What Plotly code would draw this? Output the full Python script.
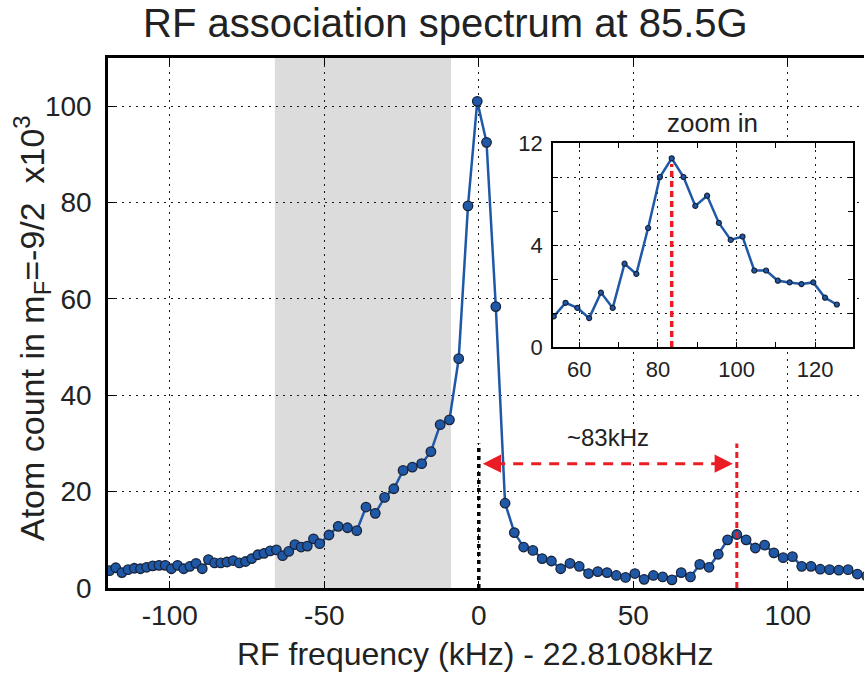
import plotly.graph_objects as go

# RF detuning from 22.8108 kHz (kHz) and remaining atom count in mF=-9/2 (x10^3)
freq_khz = [
    -119.5, -117.5, -115.5, -113.5, -111.5, -109.5, -107.5, -105.5, -103.5, -101.5,
    -99.5, -97.5, -95.5, -93.5, -91.5, -89.5, -87.5, -85.5, -83.5, -81.5,
    -79.5, -77.5, -75.5, -73.5, -71.5, -69.5, -67.5, -65.5, -63.5, -61.5,
    -59.5, -57.5, -55.5, -53.5, -51.5,
    -48.5, -45.5, -42.5, -39.5, -36.5, -33.5, -30.5, -27.5, -24.5, -21.5,
    -18.5, -15.5, -12.5, -9.5, -6.5, -3.5, -0.5, 2.5, 5.5, 8.5,
    11.5, 14.5, 17.5, 20.5, 23.5, 26.5, 29.5, 32.5, 35.5, 38.5,
    41.5, 44.5, 47.5, 50.5, 53.5, 56.5, 59.5, 62.5, 65.5, 68.5,
    71.5, 74.5, 77.5, 80.5, 83.5, 86.5, 89.5, 92.5, 95.5, 98.5,
    101.5, 104.5, 107.5, 110.5, 113.5, 116.5, 119.5, 122.5, 125.5,
]
atoms_k = [
    3.6, 4.2, 3.2, 3.8, 4.1, 4.0, 4.3, 4.6, 4.7, 4.7,
    4.0, 4.7, 4.0, 4.5, 5.1, 4.0, 5.9, 5.2, 5.2, 5.4,
    5.7, 5.2, 5.5, 6.1, 6.9, 7.2, 7.7, 7.9, 6.7, 7.6,
    9.0, 8.5, 8.7, 10.2, 9.2,
    11.0, 12.8, 12.5, 11.9, 16.8, 15.5, 18.8, 20.6, 24.4, 25.1,
    25.8, 28.3, 33.9, 34.9, 47.6, 79.3, 101.0, 92.5, 58.4, 17.6,
    11.5, 8.5, 7.8, 6.1, 5.6, 4.0, 5.1, 4.5, 3.0, 3.4,
    3.2, 2.6, 2.2, 3.0, 1.8, 2.6, 2.3, 1.7, 3.2, 2.3,
    4.9, 4.3, 7.0, 10.0, 11.1, 10.0, 8.3, 8.9, 7.3, 6.3,
    6.5, 4.5, 4.5, 3.9, 3.8, 3.7, 3.8, 2.9, 2.5,
]

# Tick values / labels
main_xticks = [-100, -50, 0, 50, 100]
main_xtext = ["-100", "-50", "0", "50", "100"]
main_yticks = [0, 20, 40, 60, 80, 100]
zoom_xticks = [60, 80, 100, 120]
zoom_xminor = [70, 90, 110]
zoom_yticks = [0, 2, 6, 10, 12]
zoom_ytext = ["0", "", "4", "", "12"]
zoom_yminor = [4, 8]

# Reference features
CENTER_KHZ = 0.0          # main association peak reference
SIDE_PEAK_KHZ = 83.5      # second feature
MARKER_TOP = 30.0         # height of the vertical markers
ARROW_Y = 25.8
SHADE_RANGE = (-66.0, -9.0)
ZOOM_START = 53.0

BLUE = "#1f58a6"
EDGE = "#18233a"
RED = "#ec1c24"
TEXT = "#222222"
FONT = "Liberation Sans"

zoom_f = [f for f in freq_khz if f >= ZOOM_START]
zoom_a = [a for f, a in zip(freq_khz, atoms_k) if f >= ZOOM_START]

fig = go.Figure()

fig.add_trace(go.Scatter(
    x=freq_khz, y=atoms_k, mode="lines+markers",
    line=dict(color=BLUE, width=2.5),
    marker=dict(size=9.5, color=BLUE, line=dict(color=EDGE, width=1.3)),
    xaxis="x", yaxis="y", showlegend=False,
))

fig.add_trace(go.Scatter(
    x=zoom_f, y=zoom_a, mode="lines+markers",
    line=dict(color=BLUE, width=2.5),
    marker=dict(size=5, color=BLUE, line=dict(color=EDGE, width=1.2)),
    xaxis="x2", yaxis="y2", showlegend=False,
))

grid_dash = "2px,5px"
axis_common = dict(
    showline=True, linecolor="black", ticks="inside", tickcolor="black",
    zeroline=False, gridcolor="#1a1a1a", griddash=grid_dash, gridwidth=1.2,
)

INSET_X = [0.5886, 0.9854]
INSET_Y = [0.4547, 0.8396]

fig.update_layout(
    width=864, height=680,
    margin=dict(l=108, r=0, t=58, b=92),
    paper_bgcolor="white", plot_bgcolor="white",
    font=dict(family=FONT, color=TEXT),
    xaxis=dict(
        **axis_common, range=[-120, 124.66], tickvals=main_xticks, ticktext=main_xtext,
        linewidth=2.5, ticklen=7, mirror="allticks", showgrid=True,
        tickfont=dict(size=28), ticklabelstandoff=1,
    ),
    yaxis=dict(
        **axis_common, range=[0, 110], tickvals=main_yticks,
        linewidth=2.5, ticklen=7, mirror=False, showgrid=True,
        tickfont=dict(size=28), ticklabelstandoff=8,
    ),
    xaxis2=dict(
        **axis_common, domain=INSET_X, anchor="y2",
        range=[53.3, 129.6], tickvals=zoom_xticks, linewidth=1.5,
        ticklen=5, mirror="allticks", showgrid=True,
        minor=dict(tickvals=zoom_xminor, ticks="inside", ticklen=5,
                   tickcolor="black", showgrid=False),
        tickfont=dict(size=22), ticklabelstandoff=2,
    ),
    yaxis2=dict(
        **axis_common, domain=INSET_Y, anchor="x2",
        range=[0, 12], tickvals=zoom_yticks, ticktext=zoom_ytext,
        linewidth=1.5, ticklen=5, mirror="allticks", showgrid=True,
        minor=dict(tickvals=zoom_yminor, ticks="inside", ticklen=5,
                   tickcolor="black", showgrid=False),
        tickfont=dict(size=22), ticklabelstandoff=4,
    ),
)

# shaded frequency window
fig.add_shape(type="rect", xref="x", yref="y domain",
              x0=SHADE_RANGE[0], x1=SHADE_RANGE[1], y0=0, y1=1,
              fillcolor="#dcdcdc", line=dict(width=0), layer="below")

# vertical markers
fig.add_shape(type="line", xref="x", yref="y", x0=CENTER_KHZ, x1=CENTER_KHZ,
              y0=0, y1=MARKER_TOP, line=dict(color="#000000", width=3.5, dash="4px,4px"),
              layer="above")
fig.add_shape(type="line", xref="x", yref="y", x0=SIDE_PEAK_KHZ, x1=SIDE_PEAK_KHZ,
              y0=0, y1=MARKER_TOP, line=dict(color=RED, width=3, dash="6px,4px"),
              layer="above")
peak_zoom = max(zoom_a)
fig.add_shape(type="line", xref="x2", yref="y2", x0=SIDE_PEAK_KHZ, x1=SIDE_PEAK_KHZ,
              y0=0, y1=peak_zoom * 0.97, line=dict(color=RED, width=3.5, dash="6px,4px"),
              layer="above")

# separation arrow
a_left = CENTER_KHZ + 1.3
a_right = SIDE_PEAK_KHZ - 1.3
fig.add_shape(type="line", xref="x", yref="y", x0=a_left + 4, x1=a_right - 4,
              y0=ARROW_Y, y1=ARROW_Y, line=dict(color=RED, width=3, dash="10px,8px"),
              layer="above")
for xh, off in ((a_left, 14), (a_right, -14)):
    fig.add_annotation(x=xh, y=ARROW_Y, xref="x", yref="y", ax=off, ay=0,
                       axref="pixel", ayref="pixel", text="", showarrow=True,
                       arrowhead=2, arrowsize=1.3, arrowwidth=2.8, arrowcolor=RED)

fig.add_annotation(x=(CENTER_KHZ + SIDE_PEAK_KHZ) / 2, y=ARROW_Y, xref="x", yref="y",
                   yshift=26, text="~83kHz", showarrow=False,
                   font=dict(size=24, color=TEXT))

# titles
fig.add_annotation(x=(INSET_X[0] + INSET_X[1]) / 2, y=INSET_Y[1], xref="paper", yref="paper",
                   xanchor="center", yanchor="bottom", xshift=10, yshift=3,
                   text="zoom in", showarrow=False, font=dict(size=26, color=TEXT))
fig.add_annotation(x=(445 - 108) / 756, y=1.0, xref="paper", yref="paper",
                   xanchor="center", yanchor="bottom", yshift=11,
                   text="RF association spectrum at 85.5G",
                   showarrow=False, font=dict(size=40, color=TEXT))
fig.add_annotation(x=(475 - 108) / 756, y=0.0, xref="paper", yref="paper",
                   xanchor="center", yanchor="top", yshift=-46,
                   text="RF frequency (kHz) - 22.8108kHz",
                   showarrow=False, font=dict(size=32, color=TEXT))
fig.add_annotation(x=0.0, y=(588 - 328) / 530, xref="paper", yref="paper",
                   xanchor="center", xshift=-76, textangle=-90,
                   text="Atom count in m<sub>F</sub>=-9/2  x10<sup>3</sup>",
                   showarrow=False, font=dict(size=34, color=TEXT))

fig.write_html("out.html")
